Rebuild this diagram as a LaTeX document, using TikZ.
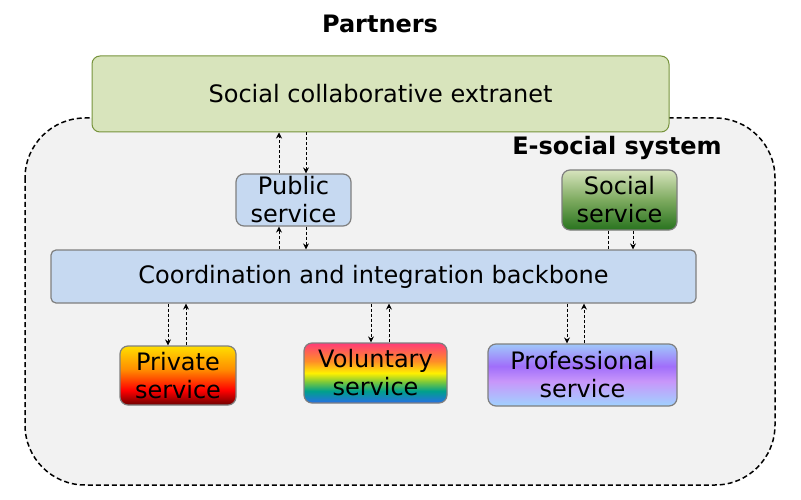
\documentclass[tikz,border=0pt]{standalone}
\usepackage{fontspec}
\setmainfont{DejaVu Sans}
\usetikzlibrary{arrows.meta,calc}
\definecolor{bgfill}{RGB}{242,242,242}
\definecolor{extfill}{RGB}{216,228,188}
\definecolor{extdraw}{RGB}{119,147,60}
\definecolor{bluefill}{RGB}{198,217,241}
\definecolor{boxdraw}{RGB}{127,127,127}
\pgfdeclareverticalshading{privshade}{100bp}{color(0bp)=(rgb,255:red,110;green,0;blue,0); color(25bp)=(rgb,255:red,110;green,0;blue,0); color(37.5bp)=(rgb,255:red,255;green,0;blue,0); color(55bp)=(rgb,255:red,255;green,140;blue,0); color(75bp)=(rgb,255:red,255;green,222;blue,0); color(100bp)=(rgb,255:red,255;green,222;blue,0)}
\pgfdeclareverticalshading{volshade}{100bp}{color(0bp)=(rgb,255:red,40;green,110;blue,230); color(25bp)=(rgb,255:red,40;green,110;blue,230); color(35bp)=(rgb,255:red,0;green,160;blue,140); color(42.5bp)=(rgb,255:red,120;green,200;blue,60); color(50bp)=(rgb,255:red,255;green,240;blue,0); color(60bp)=(rgb,255:red,255;green,140;blue,40); color(75bp)=(rgb,255:red,255;green,60;blue,120); color(100bp)=(rgb,255:red,255;green,60;blue,120)}
\pgfdeclareverticalshading{profshade}{100bp}{color(0bp)=(rgb,255:red,160;green,210;blue,255); color(25bp)=(rgb,255:red,160;green,210;blue,255); color(45bp)=(rgb,255:red,200;green,150;blue,250); color(57bp)=(rgb,255:red,160;green,110;blue,250); color(75bp)=(rgb,255:red,160;green,200;blue,250); color(100bp)=(rgb,255:red,160;green,200;blue,250)}
\pgfdeclareverticalshading{socshade}{100bp}{color(0bp)=(rgb,255:red,40;green,115;blue,30); color(25bp)=(rgb,255:red,40;green,115;blue,30); color(50bp)=(rgb,255:red,125;green,170;blue,95); color(75bp)=(rgb,255:red,215;green,228;blue,189); color(100bp)=(rgb,255:red,215;green,228;blue,189)}
\tikzset{
  box/.style={rectangle, rounded corners=8pt, draw=boxdraw, line width=1.2pt, align=center, inner sep=0pt, font=\fontsize{24}{28}\selectfont},
  flow/.style={dash pattern=on 3pt off 2pt, line width=0.8pt, -{Stealth[length=6pt,width=6pt]}},
  plainflow/.style={dash pattern=on 3pt off 2pt, line width=0.8pt},
}
\begin{document}
\begin{tikzpicture}[x=1pt,y=-1pt]
\useasboundingbox (0,0) rectangle (801,500);
\node[font=\bfseries\fontsize{24}{28}\selectfont] (partners) at (380,24) {Partners};
\draw[fill=bgfill, dash pattern=on 5pt off 3pt, line width=1.5pt, rounded corners=60pt] (25,118) rectangle (775,485);
\node[box, draw=extdraw, fill=extfill, line width=1pt, minimum width=577pt, minimum height=76pt] (ext) at (380.5,94) {Social collaborative extranet};
\node[font=\bfseries\fontsize{24}{28}\selectfont] (esys) at (617,148) {E-social system};
\node[box, fill=bluefill, minimum width=115pt, minimum height=52pt] (pub) at (293.5,200) {Public\\service};
\node[box, shading=socshade, minimum width=115pt, minimum height=60pt] (soc) at (619.5,200) {Social\\service};
\node[box, fill=bluefill, rounded corners=5pt, minimum width=645pt, minimum height=53pt] (bb) at (373.5,276.5) {Coordination and integration backbone};
\node[box, shading=privshade, minimum width=116pt, minimum height=59pt] (priv) at (178,375.5) {Private\\service};
\node[box, shading=volshade, minimum width=143pt, minimum height=60pt] (vol) at (375.5,373) {Voluntary\\service};
\node[box, shading=profshade, minimum width=189pt, minimum height=62pt] (prof) at (582.5,375) {Professional\\service};
% public <-> extranet
\draw[flow] ([xshift=-14.5pt]pub.north) -- ([xshift=-14.5pt]pub.north |- ext.south);
\draw[flow] ([xshift=12.5pt]pub.north |- ext.south) -- ([xshift=12.5pt]pub.north);
% public <-> backbone
\draw[flow] ([xshift=-14.5pt]pub.south |- bb.north) -- ([xshift=-14.5pt]pub.south);
\draw[flow] ([xshift=12.5pt]pub.south) -- ([xshift=12.5pt]pub.south |- bb.north);
% social <-> backbone
\draw[plainflow] ([xshift=-11.5pt]soc.south) -- ([xshift=-11.5pt]soc.south |- bb.north);
\draw[flow] ([xshift=13.5pt]soc.south) -- ([xshift=13.5pt]soc.south |- bb.north);
% backbone <-> private
\draw[flow] ([xshift=-10pt]priv.north |- bb.south) -- ([xshift=-10pt]priv.north);
\draw[flow] ([xshift=8pt]priv.north) -- ([xshift=8pt]priv.north |- bb.south);
% backbone <-> voluntary
\draw[flow] ([xshift=-4.5pt]vol.north |- bb.south) -- ([xshift=-4.5pt]vol.north);
\draw[flow] ([xshift=13.5pt]vol.north) -- ([xshift=13.5pt]vol.north |- bb.south);
% backbone <-> professional
\draw[flow] ([xshift=-15.5pt]prof.north |- bb.south) -- ([xshift=-15.5pt]prof.north);
\draw[flow] ([xshift=1.5pt]prof.north) -- ([xshift=1.5pt]prof.north |- bb.south);
\end{tikzpicture}
\end{document}
